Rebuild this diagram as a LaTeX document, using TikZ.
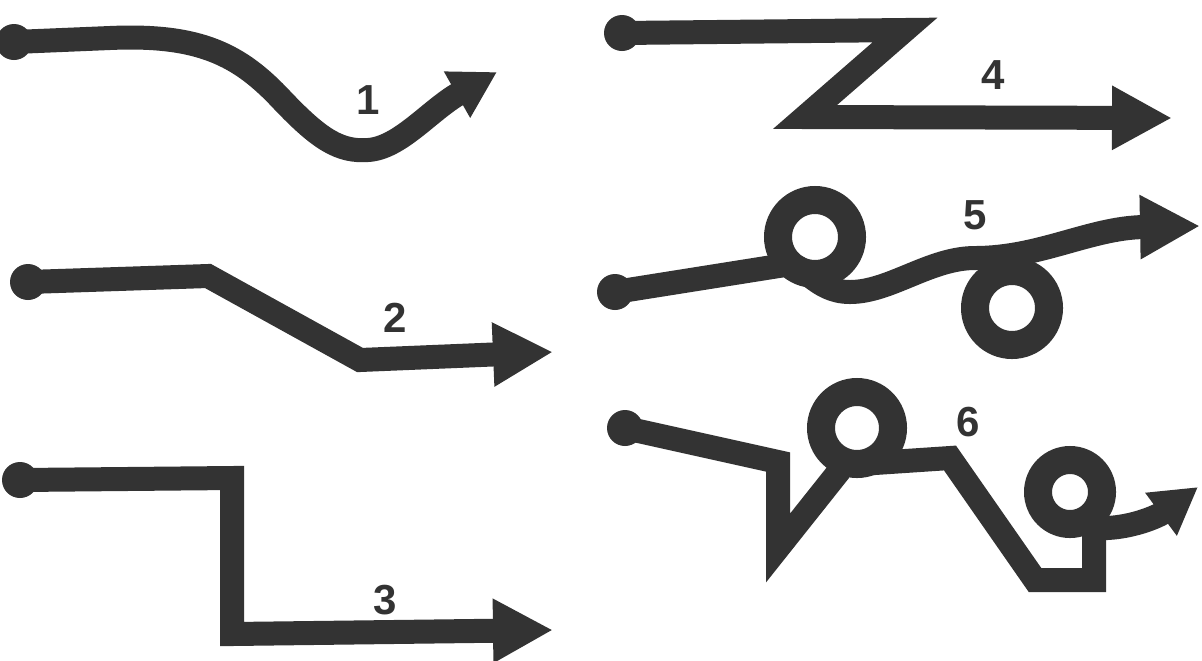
\documentclass[tikz,border=0pt]{standalone}
\usepackage{fontspec}
\setmainfont{Liberation Sans}
\usetikzlibrary{arrows.meta}
\definecolor{ink}{HTML}{333333}
\begin{document}
\begin{tikzpicture}[x=0.5pt,y=-0.5pt,
  stroke/.style={draw=ink, line width=12pt, line join=miter, miter limit=12},
  curvy/.style={draw=ink, line width=12pt, line join=round},
  bighead/.style={-{Triangle[width=30pt,length=30pt]}},
  smallhead/.style={-{Triangle[width=25pt,length=23pt]}},
  ring/.style={draw=ink, line width=14pt},
  knob/.style={fill=ink},
  lbl/.style={text=ink, font=\fontsize{21}{23}\selectfont\bfseries}]
\useasboundingbox[fill=white] (0,0) rectangle (1202,660);

% ---------- 1
\coordinate (a1s) at (14,42);
\coordinate (a1e) at (497,72);
\fill[knob] (a1s) circle (9pt);
\draw[curvy, smallhead] (a1s) -- (110,38) .. controls (200,34) and (240,55) .. (282,100)
  .. controls (320,140) and (340,152) .. (368,150)
  .. controls (400,148) and (430,110) .. (a1e);
\node[lbl] (l1) at (368,100) {1};

% ---------- 2
\coordinate (a2s) at (28,282);
\coordinate (a2e) at (553,352);
\fill[knob] (a2s) circle (9pt);
\draw[stroke, bighead] (a2s) -- (208,276) -- (360,360) -- (a2e);
\node[lbl] (l2) at (395,318) {2};

% ---------- 3
\coordinate (a3s) at (20,480);
\coordinate (a3e) at (553,630);
\fill[knob] (a3s) circle (9pt);
\draw[stroke, bighead] (a3s) -- (232,478) -- (232,634) -- (a3e);
\node[lbl] (l3) at (385,600) {3};

% ---------- 4
\coordinate (a4s) at (622,33);
\coordinate (a4e) at (1172,118);
\fill[knob] (a4s) circle (9pt);
\draw[stroke, bighead] (a4s) -- (905,30) -- (805,117) -- (a4e);
\node[lbl] (l4) at (993,75) {4};

% ---------- 5
\coordinate (a5s) at (615,292);
\coordinate (a5e) at (1200,226);
\fill[knob] (a5s) circle (9pt);
\draw[ring] (815,237) circle (18.5pt);
\draw[ring] (1012,308) circle (18.5pt);
\draw[curvy, bighead] (a5s) -- (785,265)
  .. controls (805,262) and (815,292) .. (850,292)
  .. controls (890,292) and (930,258) .. (975,258)
  .. controls (1040,258) and (1090,228) .. (a5e);
\node[lbl] (l5) at (975,215) {5};

% ---------- 6
\coordinate (a6s) at (625,428);
\coordinate (a6e) at (1198,487);
\fill[knob] (a6s) circle (9pt);
\draw[ring] (857,428) circle (18pt);
\draw[ring] (1070,492) circle (16pt);
\draw[stroke] (a6s) -- (778,462) -- (778,548) -- (840,470);
\draw[stroke] (845,465) -- (950,458) -- (1035,580) -- (1094,580) -- (1094,530);
\draw[curvy, smallhead] (1094,528) .. controls (1130,530) and (1160,515) .. (a6e);
\node[lbl] (l6) at (968,422) {6};
\end{tikzpicture}
\end{document}
